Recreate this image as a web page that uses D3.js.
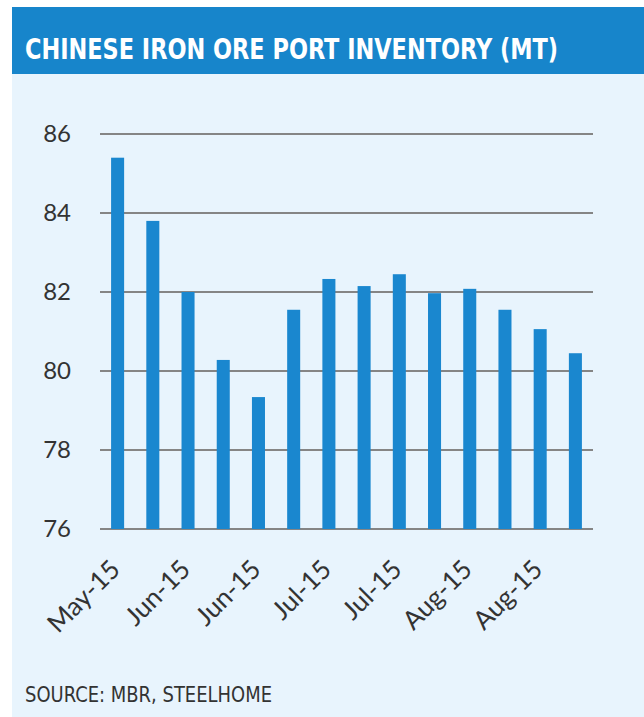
<!DOCTYPE html>
<html>
<head>
<meta charset="utf-8">
<script src="https://cdn.jsdelivr.net/npm/d3@7"></script>
<style>
  body { margin: 0; background: #fff; }
</style>
</head>
<body>
<svg width="644" height="717"></svg>
<script>
var svg = d3.select("svg");
var width = +svg.attr("width");
var height = +svg.attr("height");

// data (million tonnes)
var values = [85.4, 83.8, 82.0, 80.28, 79.34, 81.55, 82.33, 82.15, 82.45, 81.97, 82.08, 81.55, 81.06, 80.45];
var labels = ["May-15", "", "Jun-15", "", "Jun-15", "", "Jul-15", "", "Jul-15", "", "Aug-15", "", "Aug-15", ""];
var yTicks = [76, 78, 80, 82, 84, 86];

var margin = {left: 100, right: 51, top: 134, bottom: 188};

// panel + title bar
svg.append("rect")
    .attr("x", 12).attr("y", 7)
    .attr("width", width - 12).attr("height", height - 7)
    .attr("fill", "#e8f4fd");

svg.append("rect")
    .attr("x", 12).attr("y", 7)
    .attr("width", width - 12).attr("height", 67)
    .attr("fill", "#1785cb");

svg.append("text")
    .attr("x", 25).attr("y", 59)
    .attr("textLength", 533)
    .attr("lengthAdjust", "spacingAndGlyphs")
    .style("font-family", "'DejaVu Sans Condensed', 'DejaVu Sans'")
    .style("font-weight", "bold")
    .style("font-size", "29px")
    .attr("fill", "#fff")
    .text("CHINESE IRON ORE PORT INVENTORY (MT)");

var x = d3.scaleBand()
    .domain(d3.range(values.length))
    .range([margin.left, width - margin.right])
    .paddingInner(0.63)
    .paddingOuter(0.315);

var y = d3.scaleLinear()
    .domain([76, 86])
    .range([height - margin.bottom, margin.top]);

// gridlines
svg.append("g")
    .selectAll("line")
    .data(yTicks)
    .enter().append("line")
    .attr("x1", margin.left)
    .attr("x2", width - margin.right)
    .attr("y1", function (d) { return y(d); })
    .attr("y2", function (d) { return y(d); })
    .attr("stroke", "#858585")
    .attr("stroke-width", 2);

// bars
svg.append("g")
    .selectAll("rect")
    .data(values)
    .enter().append("rect")
    .attr("x", function (d, i) { return x(i); })
    .attr("width", x.bandwidth())
    .attr("y", function (d) { return y(d); })
    .attr("height", function (d) { return y(76) - y(d); })
    .attr("fill", "#1a87cf");

// y axis labels
var yAxis = d3.axisLeft(y).tickValues(yTicks).tickSize(0).tickPadding(0);
var gy = svg.append("g")
    .attr("transform", "translate(71,0)")
    .call(yAxis);
gy.select(".domain").remove();
gy.selectAll("text")
    .style("font-family", "Lato, 'Open Sans', sans-serif")
    .style("font-size", "24px")
    .attr("fill", "#333");

// x axis labels
var xAxis = d3.axisBottom(x).tickFormat(function (i) { return labels[i]; }).tickSize(0).tickPadding(0);
var gx = svg.append("g")
    .attr("transform", "translate(0," + y(76) + ")")
    .call(xAxis);
gx.select(".domain").remove();
gx.selectAll("text")
    .attr("y", 0)
    .attr("dy", 0)
    .attr("text-anchor", "end")
    .attr("transform", "translate(4,42) rotate(-45)")
    .style("font-family", "Lato, 'Open Sans', sans-serif")
    .style("font-size", "26px")
    .attr("fill", "#333");

// source
svg.append("text")
    .attr("x", 25).attr("y", 702)
    .attr("textLength", 247)
    .attr("lengthAdjust", "spacingAndGlyphs")
    .style("font-family", "'DejaVu Sans Condensed', 'DejaVu Sans'")
    .style("font-size", "21px")
    .attr("fill", "#333")
    .text("SOURCE: MBR, STEELHOME");
</script>
</body>
</html>
